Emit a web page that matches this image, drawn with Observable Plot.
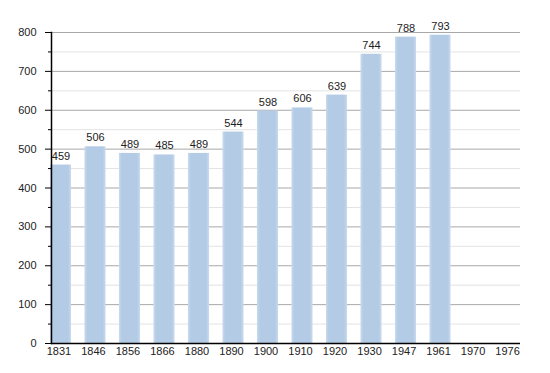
<!DOCTYPE html>
<html>
<head>
<meta charset="utf-8">
<script src="https://cdn.jsdelivr.net/npm/d3@7"></script>
<script src="https://cdn.jsdelivr.net/npm/@observablehq/plot@0.6"></script>
<style>
  html, body { margin: 0; padding: 0; background: #fff; }
  #chart svg { display: block; }
</style>
</head>
<body>
<div id="chart"></div>
<script>
const years = ["1831","1846","1856","1866","1880","1890","1900","1910","1920","1930","1947","1961","1970","1976"];
const population = [459, 506, 489, 485, 489, 544, 598, 606, 639, 744, 788, 793, null, null];
const majorTicks = [0, 100, 200, 300, 400, 500, 600, 700, 800];
const minorTicks = [50, 150, 250, 350, 450, 550, 650, 750];

const data = years.map((year, i) => ({year, value: population[i]}));
const withValues = data.filter(d => d.value != null);

const chart = Plot.plot({
  width: 550,
  height: 373,
  marginLeft: 51,
  marginRight: 30,
  marginTop: 32,
  marginBottom: 30,
  style: {fontFamily: "'Liberation Sans', Arial, sans-serif", fontSize: "11px", color: "#222", background: "#fff"},
  x: {domain: years, range: [36.5, 533], padding: 0.39, round: false, label: null},
  y: {domain: [0, 800], label: null},
  marks: [
    Plot.gridY(minorTicks, {stroke: "#e3e3e3", strokeOpacity: 1}),
    Plot.gridY(majorTicks, {stroke: "#a8a8a8", strokeOpacity: 1}),
    Plot.barY(withValues, {x: "year", y: "value", fill: "url(#barGrad)"}),
    Plot.text(withValues, {x: "year", y: "value", text: d => String(d.value), lineAnchor: "bottom", dy: -5.5, fill: "#222", fontSize: 11}),
    Plot.axisY(majorTicks, {tickSize: 6, tickPadding: 9, stroke: "#000", fill: "#222", fontSize: 11, label: null}),
    Plot.axisY(minorTicks, {tickSize: 3, tickFormat: () => "", stroke: "#000", label: null}),
    Plot.axisX({tickSize: 0, tickPadding: 4, fill: "#222", fontSize: 11, label: null, dx: -2}),
    Plot.frame({anchor: "left", stroke: "#000", strokeWidth: 1.5}),
    Plot.ruleY([0], {stroke: "#000", strokeWidth: 1.5})
  ]
});

const ns = "http://www.w3.org/2000/svg";
const defs = document.createElementNS(ns, "defs");
const grad = document.createElementNS(ns, "linearGradient");
grad.setAttribute("id", "barGrad");
grad.setAttribute("x1", "0"); grad.setAttribute("x2", "1");
grad.setAttribute("y1", "0"); grad.setAttribute("y2", "0");
[["0%", "#c9daee"], ["14%", "#b3cbe5"], ["86%", "#b3cbe5"], ["100%", "#c9daee"]].forEach(([o, c]) => {
  const s = document.createElementNS(ns, "stop");
  s.setAttribute("offset", o);
  s.setAttribute("stop-color", c);
  grad.appendChild(s);
});
defs.appendChild(grad);
chart.insertBefore(defs, chart.firstChild);

document.getElementById("chart").appendChild(chart);
</script>
</body>
</html>
